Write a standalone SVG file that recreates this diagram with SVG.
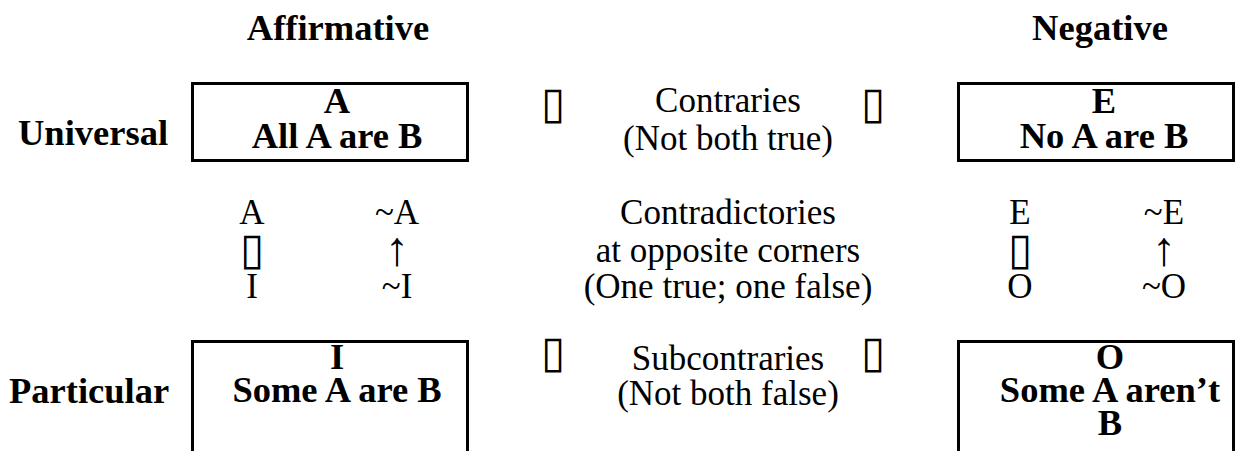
<svg xmlns="http://www.w3.org/2000/svg" width="1250" height="451" viewBox="0 0 1250 451">
<style>
.b{font-family:"Liberation Serif","Times New Roman",serif;font-weight:bold;font-size:36.5px;fill:#000}
.r{font-family:"Liberation Serif","Times New Roman",serif;font-size:35px;fill:#000}
.t{font-family:"DejaVu Sans",sans-serif;font-weight:200;font-size:44px;fill:#000;text-anchor:middle}
.ar{font-family:"Liberation Serif","Times New Roman",serif;font-size:48px;fill:#000;text-anchor:middle}
.c{text-anchor:middle}
.box{fill:none;stroke:#000;stroke-width:3}
</style>
<rect width="1250" height="451" fill="#fff"/>
<g id="headers">
<text class="b c" x="338" y="40">Affirmative</text>
<text class="b c" x="1100" y="40">Negative</text>
<text class="b" x="18" y="145">Universal</text>
<text class="b" x="9" y="403">Particular</text>
</g>
<g id="node-A">
<rect class="box" x="192.5" y="83.5" width="275" height="77"/>
<text class="b c" x="337" y="113">A</text>
<text class="b c" x="337" y="148">All A are B</text>
</g>
<g id="node-E">
<rect class="box" x="958.5" y="83.5" width="275" height="77"/>
<text class="b c" x="1104" y="113">E</text>
<text class="b c" x="1104" y="148">No A are B</text>
</g>
<g id="node-I">
<rect class="box" x="192.5" y="341.5" width="275" height="130"/>
<text class="b c" x="337" y="369">I</text>
<text class="b c" x="337" y="402">Some A are B</text>
</g>
<g id="node-O">
<rect class="box" x="958.5" y="341.5" width="275" height="130"/>
<text class="b c" x="1110" y="369">O</text>
<text class="b c" x="1110" y="402">Some A aren’t</text>
<text class="b c" x="1110" y="435">B</text>
</g>
<g id="connectors">
<text class="t" x="553" y="118">▯</text>
<text class="r c" x="728" y="112">Contraries</text>
<text class="r c" x="728" y="150">(Not both true)</text>
<text class="t" x="873" y="118">▯</text>
<text class="r c" x="252" y="224">A</text>
<text class="t" x="252" y="264">▯</text>
<text class="r c" x="252" y="298">I</text>
<text class="r c" x="397" y="224">~A</text>
<text class="ar" x="397" y="265">↑</text>
<text class="r c" x="397" y="298">~I</text>
<text class="r c" x="728" y="224">Contradictories</text>
<text class="r c" x="728" y="262">at opposite corners</text>
<text class="r c" x="728" y="298">(One true; one false)</text>
<text class="r c" x="1020" y="224">E</text>
<text class="t" x="1020" y="264">▯</text>
<text class="r c" x="1020" y="298">O</text>
<text class="r c" x="1164" y="224">~E</text>
<text class="ar" x="1164" y="265">↑</text>
<text class="r c" x="1164" y="298">~O</text>
<text class="t" x="553" y="367">▯</text>
<text class="r c" x="728" y="370">Subcontraries</text>
<text class="r c" x="728" y="405">(Not both false)</text>
<text class="t" x="873" y="367">▯</text>
</g>
</svg>
